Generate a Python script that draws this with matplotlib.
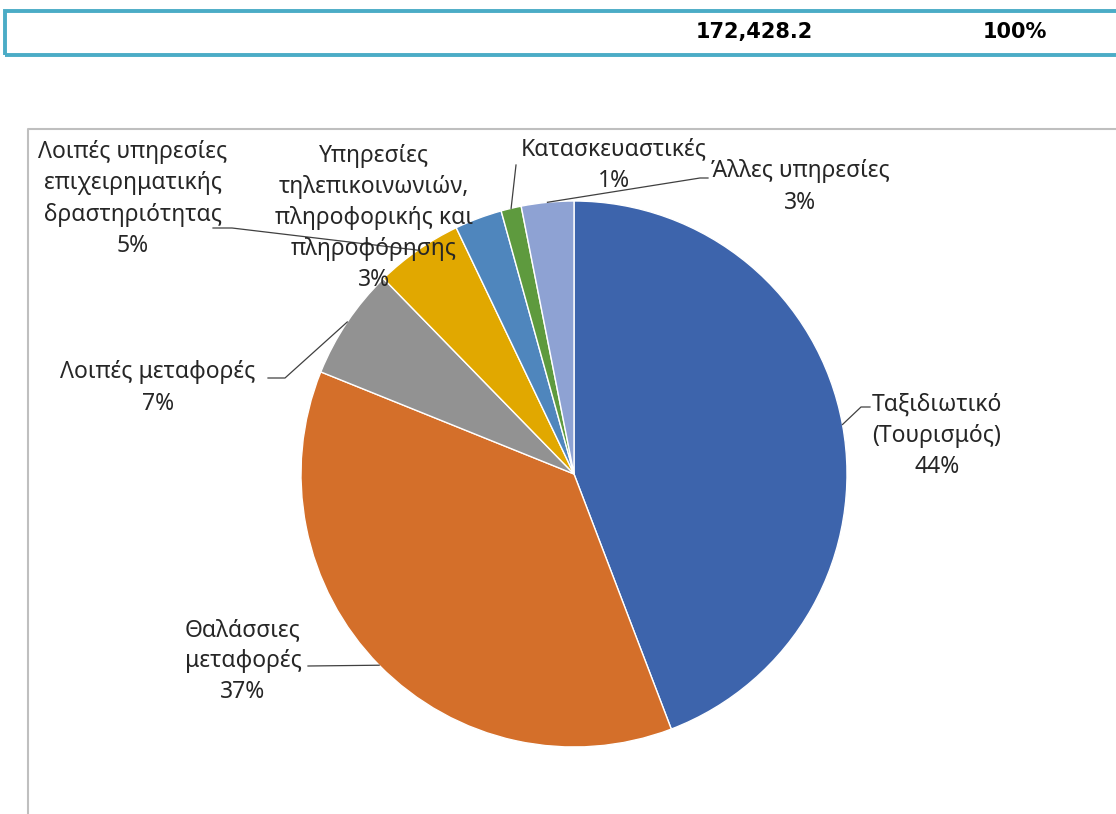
import numpy as np
import matplotlib
matplotlib.use("Agg")
import matplotlib.pyplot as plt
from matplotlib.patches import Rectangle

# datos del gráfico (porcentajes estimados)
categorias = [
    "Ταξιδιωτικό\n(Τουρισμός)",
    "Θαλάσσιες\nμεταφορές",
    "Λοιπές μεταφορές",
    "Λοιπές υπηρεσίες\nεπιχειρηματικής\nδραστηριότητας",
    "Υπηρεσίες\nτηλεπικοινωνιών,\nπληροφορικής και\nπληροφόρησης",
    "Κατασκευαστικές",
    "Άλλες υπηρεσίες",
]
valores = [44.2, 36.9, 6.6, 5.2, 2.8, 1.2, 3.1]
colores = ["#3D64AC", "#D46F2A", "#929292", "#E1A800", "#4F86BD", "#5E9A3E", "#8EA2D3"]
total_texto = "172,428.2"
total_pct = "100%"

W, H = 1116, 814
plt.rcParams["font.family"] = ["Noto Sans", "DejaVu Sans"]
fig = plt.figure(figsize=(W / 100, H / 100), dpi=100)
ax = fig.add_axes([0, 0, 1, 1])

def Y(y):
    # se pasa de coordenada de imagen (arriba-abajo) a la del eje
    return H - y

# fila de la tabla superior
ax.add_patch(Rectangle((5, Y(55)), W + 20, 44, fill=False, edgecolor="#4BACC6", linewidth=2.8, clip_on=False))
ax.text(754, Y(32), total_texto, ha="center", va="center", fontsize=15, fontweight="bold", family="DejaVu Sans")
ax.text(1015, Y(32), total_pct, ha="center", va="center", fontsize=15, fontweight="bold", family="DejaVu Sans")

# marco del gráfico
ax.plot([28, 28, W + 5], [0, Y(129), Y(129)], color="#BFBFBF", linewidth=1.5, clip_on=False)

# torta
cx, cy, r = 574, Y(474), 273
wedges, _ = ax.pie(valores, colors=colores, startangle=90, counterclock=False,
                   center=(cx, cy), radius=r, frame=True,
                   wedgeprops=dict(edgecolor="white", linewidth=1.0))
ax.set_xlim(0, W)
ax.set_ylim(0, H)
ax.axis("off")

# posiciones de las etiquetas: (x texto, y texto, puntos del conector)
etiquetas = [
    (937, 436, [(861, 407), (870, 407)]),
    (243, 661, [(308, 666)]),
    (158, 388, [(285, 378), (268, 378)]),
    (133, 199, [(232, 228), (213, 228)]),
    (374, 218, None),
    (614, 165, [(516, 165)]),
    (800, 187, [(700, 178), (708, 178)]),
]

fs = 16.5
for w, nombre, val, (tx, ty, conector) in zip(wedges, categorias, valores, etiquetas):
    ang = np.deg2rad((w.theta1 + w.theta2) / 2)
    px, py = cx + r * np.cos(ang), cy + r * np.sin(ang)
    if conector is not None:
        xs = [px] + [p[0] for p in conector]
        ys = [py] + [Y(p[1]) for p in conector]
        ax.plot(xs, ys, color="#404040", linewidth=0.9)
    ax.text(tx, Y(ty), f"{nombre}\n{round(val)}%", ha="center", va="center",
            fontsize=fs, color="#262626", linespacing=1.4)

fig.savefig("out.png", dpi=100)
